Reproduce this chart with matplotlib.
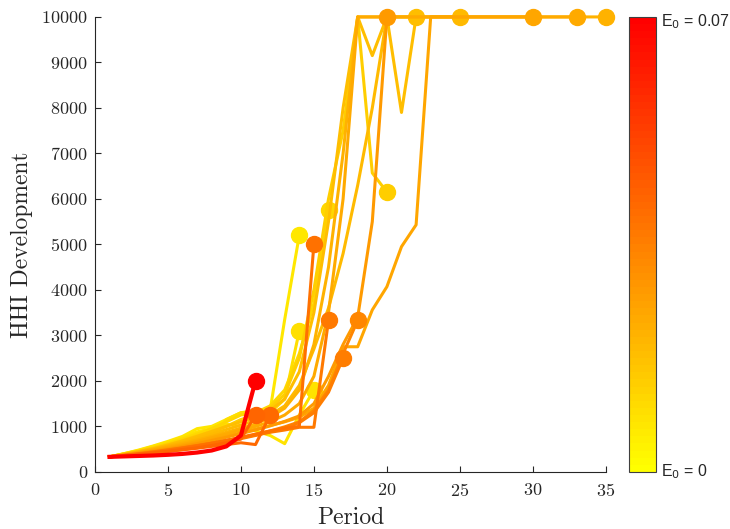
import numpy as np
import matplotlib
matplotlib.use("Agg")
import matplotlib.pyplot as plt
from matplotlib.colors import Normalize
from matplotlib.cm import ScalarMappable

plt.rcParams["font.family"] = "serif"
plt.rcParams["font.serif"] = ["cmr10"]
plt.rcParams["mathtext.fontset"] = "cm"
plt.rcParams["axes.formatter.use_mathtext"] = True

# Datele: initial E0 and HHI per period (periods start at 1)
e0_max = 0.07
e0_values = [0.007, 0.0084, 0.0091, 0.0112, 0.014, 0.0175, 0.0189,
             0.021, 0.0231, 0.0245, 0.028, 0.0336, 0.035, 0.0364,
             0.0385, 0.0406, 0.042, 0.07]

hhi_series = [
    [330, 400, 480, 570, 670, 780, 950, 1000, 1150, 1300, 1320, 1350, 3350, 5200],
    [330, 400, 470, 560, 650, 760, 880, 950, 1050, 1000, 900, 800, 620, 1250, 1800],
    [330, 395, 460, 540, 630, 730, 850, 700, 1150, 1300, 1350, 1300, 1600, 3100],
    [330, 390, 455, 530, 620, 720, 830, 950, 1100, 1250, 1300, 1450, 1800, 2600,
     3700, 5750],
    [330, 390, 450, 520, 600, 690, 790, 880, 1000, 1150, 1250, 1400, 1700, 2500,
     4000, 6000, 7500, 10000, 6570, 6150],
    [330, 385, 445, 510, 590, 680, 780, 890, 1000, 1100, 1200, 1350, 1600, 2200,
     3500, 5500, 8000, 10000, 9150, 10000, 7900, 10000],
    [330, 380, 440, 500, 570, 650, 740, 830, 930, 1030, 1130, 1250, 1450, 1900,
     2700, 3600, 4800, 6300, 8000, 10000, 10000, 10000, 10000, 10000, 10000],
    [330, 380, 430, 490, 560, 630, 700, 780, 870, 960, 1050, 1200, 1400, 1800,
     2800, 4500, 7000, 10000] + [10000] * 17,
    [330, 375, 425, 480, 540, 600, 670, 750, 830, 920, 1000, 1100, 1250, 1500,
     2100, 3500, 6000, 10000] + [10000] * 15,
    [330, 370, 415, 465, 520, 580, 640, 710, 780, 860, 940, 1020, 1100, 1200,
     1400, 1900, 2750, 2750, 3560, 4070, 4950, 5430] + [10000] * 8,
    [330, 370, 410, 455, 505, 560, 620, 690, 760, 840, 920, 1010, 1110, 1230,
     1500, 2100, 2800, 3400, 5500, 10000],
    [330, 360, 395, 435, 480, 525, 575, 630, 690, 750, 820, 900, 990, 1100,
     1350, 1800, 2600, 3330],
    [330, 360, 390, 425, 465, 510, 560, 610, 670, 730, 800, 880, 970, 1080,
     1300, 1750, 2500],
    [330, 365, 400, 440, 485, 530, 580, 630, 690, 750, 810, 870, 920, 980,
     980, 3330],
    [330, 360, 390, 430, 470, 520, 570, 630, 690, 760, 830, 900, 960, 1000, 5000],
    [330, 355, 385, 415, 450, 485, 520, 560, 600, 640, 600, 1250],
    [330, 355, 385, 415, 450, 490, 530, 580, 640, 720, 1250],
    [330, 340, 350, 360, 375, 395, 425, 470, 560, 800, 2000],
]

cmap = plt.get_cmap("autumn_r", 64)
norm = Normalize(0, e0_max)

fig = plt.figure(figsize=(7.3, 5.29), dpi=100)
ax = fig.add_axes([0.130, 0.108, 0.700, 0.860])

for e0, hhi in zip(e0_values, hhi_series):
    per = np.arange(1, len(hhi) + 1)
    c = cmap(norm(e0))
    lw = 3.0 if e0 >= e0_max else 2.2
    ax.plot(per, hhi, '-', c=c, linewidth=lw, clip_on=False)
    ax.plot(per[-1], hhi[-1], 'o', c=c, markersize=11.5, clip_on=False)

ax.set_xlim(0, 35)
ax.set_ylim(0, 10000)
ax.set_xticks(np.arange(0, 36, 5))
ax.set_yticks(np.arange(0, 10001, 1000))
ax.tick_params(direction="in", labelsize=13, length=4, color="#262626",
               labelcolor="#262626")
ax.tick_params(axis="x", pad=7)
ax.tick_params(axis="y", pad=5)
ax.spines["top"].set_visible(False)
ax.spines["right"].set_visible(False)
for s in ["left", "bottom"]:
    ax.spines[s].set_color("#262626")
ax.set_xlabel("Period", fontsize=17, labelpad=6, color="#262626")
ax.set_ylabel("HHI Development", fontsize=17, labelpad=6, color="#262626")

# Colorbar fara ticks
cax = fig.add_axes([0.8616, 0.108, 0.037, 0.860])
cb = fig.colorbar(ScalarMappable(norm=norm, cmap=cmap), cax=cax)
cb.set_ticks([])
cb.outline.set_edgecolor("#404040")
cax.text(1.18, 0.99, r"E$_0$ = 0.07", transform=cax.transAxes, ha="left",
         va="center", fontsize=11.5, family="Liberation Sans",
         math_fontfamily="dejavusans", color="#262626")
cax.text(1.18, 0.0, r"E$_0$ = 0", transform=cax.transAxes, ha="left",
         va="center", fontsize=11.5, family="Liberation Sans",
         math_fontfamily="dejavusans", color="#262626")

fig.savefig("out.png", dpi=100)
